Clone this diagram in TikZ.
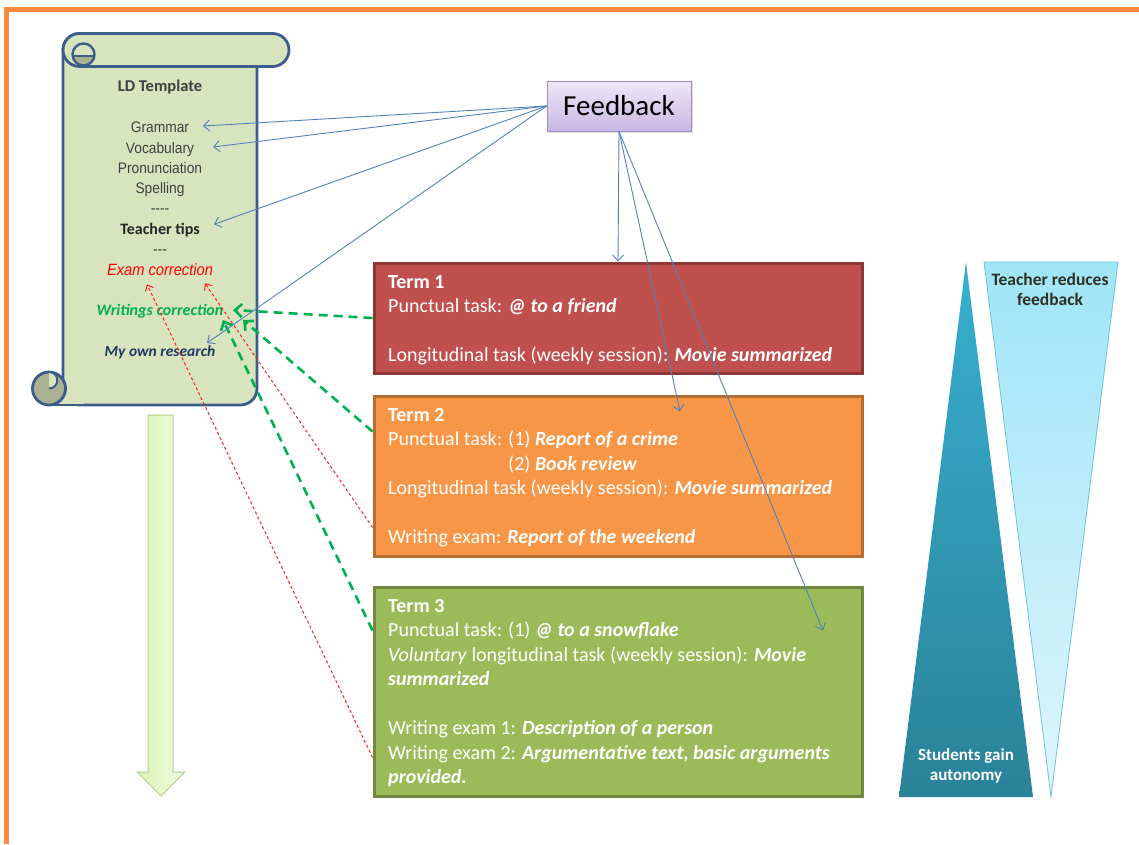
\documentclass[tikz,border=0pt]{standalone}
\usepackage{fontspec}
\setmainfont{Carlito}
\newfontfamily\narrowf[FakeStretch=0.9]{Liberation Sans}
\usetikzlibrary{arrows.meta,calc,shadows}

\definecolor{frameor}{HTML}{FF8A3D}
\definecolor{scrollfill}{HTML}{D7E4BD}
\definecolor{scrolledge}{HTML}{3C5D8C}
\definecolor{curlfill}{HTML}{A9B293}
\definecolor{fbblue}{HTML}{4F81BD}
\definecolor{grn}{HTML}{00B050}
\definecolor{redl}{HTML}{FF2020}
\definecolor{tone}{HTML}{C0504D}
\definecolor{toneb}{HTML}{8C3836}
\definecolor{ttwo}{HTML}{F79646}
\definecolor{ttwob}{HTML}{B66D31}
\definecolor{tthree}{HTML}{9BBB59}
\definecolor{tthreeb}{HTML}{71893F}
\definecolor{navy}{HTML}{1F3864}
\definecolor{greytxt}{HTML}{404040}
\definecolor{fbtop}{HTML}{EEE8F7}
\definecolor{fbbot}{HTML}{C9B7E3}
\definecolor{fbedge}{HTML}{9F8AC6}
\definecolor{tridarkT}{HTML}{38AFD0}
\definecolor{tridarkB}{HTML}{2A8298}
\definecolor{trilightT}{HTML}{9FE5F8}
\definecolor{trilightB}{HTML}{DFF5FC}
\definecolor{trilightE}{HTML}{6CC2DA}
\definecolor{barrowL}{HTML}{DCF3B6}
\definecolor{barrowR}{HTML}{EEFCDD}
\definecolor{barrowE}{HTML}{B3CF88}
\definecolor{teachtxt}{HTML}{2F2F22}

\newcommand\hlt[1]{{\bfseries\itshape #1}}

\begin{document}
\begin{tikzpicture}[x=1pt,y=-1pt,
  scroll/.style={fill=scrollfill, draw=scrolledge, line width=2.8pt, line join=round},
  stxt/.style={inner sep=1pt, anchor=base},
  termbox/.style={line width=3pt, minimum width=488pt, inner sep=0pt},
  termtxt/.style={anchor=north west, inner sep=0pt, align=left, text=white,
     font=\fontsize{20pt}{24.5pt}\selectfont},
  bluearr/.style={draw=fbblue, line width=0.9pt, -{Straight Barb[length=6pt,width=11pt]}},
  grnarr/.style={draw=grn, line width=2.6pt, dash pattern=on 9pt off 6pt,
     -{Straight Barb[length=7pt,width=13pt]}},
  redarr/.style={draw=redl, line width=1pt, dash pattern=on 3pt off 2.5pt,
     -{Straight Barb[length=5pt,width=9pt]}},
]
\useasboundingbox (0,0) rectangle (1139,844);

% orange frame
\draw[frameor, line width=5pt] (4,9.5) -- (1139,9.5);
\draw[frameor, line width=5pt] (6.5,7) -- (6.5,844);

% scroll
\filldraw[scroll, rounded corners=16.5pt] (63,33.5) rectangle (257,405);
\fill[scrollfill] (50,380) rectangle (84,403.6);
\draw[scrolledge, line width=2.8pt] (49,405) -- (84,405);
\filldraw[scroll, fill=curlfill] (49,388.5) circle (16.5);
\filldraw[scroll, line width=2pt] (49,372) .. controls (60,372) and (60,388.5) .. (49,388.5);
\filldraw[scroll, rounded corners=16.5pt] (63,33.5) rectangle (289,66.5);
\begin{scope}
  \clip (83.5,54.5) circle (11);
  \fill[curlfill] (70,56) rectangle (97,68);
\end{scope}
\draw[scrolledge, line width=2.4pt] (83.5,54.5) circle (11);
\draw[scrolledge, line width=2.2pt] (72.5,56) -- (94.5,56);

% block arrow
\shadedraw[left color=barrowL, right color=barrowR, draw=barrowE, line width=1pt]
  (148,415) -- (173,415) -- (173,772) -- (185,772) -- (161,796) -- (137,772) -- (148,772) -- cycle;

% scroll texts
\node[stxt, text=greytxt, font=\fontsize{16.5pt}{18pt}\selectfont\bfseries] (ld) at (160,91) {LD Template};
\node[stxt, text=greytxt, font=\narrowf\fontsize{15.3pt}{17pt}\selectfont] (gram) at (160,132.7) {Grammar};
\node[stxt, text=greytxt, font=\narrowf\fontsize{15.3pt}{17pt}\selectfont] (vocab) at (160,153) {Vocabulary};
\node[stxt, text=greytxt, font=\narrowf\fontsize{15.3pt}{17pt}\selectfont] (pron) at (160,173.3) {Pronunciation};
\node[stxt, text=greytxt, font=\narrowf\fontsize{15.3pt}{17pt}\selectfont] (spell) at (160,193.3) {Spelling};
\node[stxt, text=greytxt, font=\narrowf\fontsize{15.3pt}{17pt}\selectfont] (dasha) at (160,213.5) {-\kern0pt-\kern0pt-\kern0pt-};
\node[stxt, text=black!85, font=\fontsize{16pt}{18pt}\selectfont\bfseries] (tips) at (160,234.3) {Teacher tips};
\node[stxt, text=greytxt, font=\narrowf\fontsize{15.3pt}{17pt}\selectfont] (dashb) at (160,254) {-\kern0pt-\kern0pt-};
\node[stxt, text=red, font=\narrowf\fontsize{16.3pt}{18pt}\selectfont\itshape] (exam) at (160,275.3) {Exam correction};
\node[stxt, text=grn, font=\fontsize{16pt}{18pt}\selectfont\bfseries\itshape] (writ) at (160,315) {Writings correction};
\node[stxt, text=navy, font=\fontsize{15.5pt}{18pt}\selectfont\bfseries\itshape] (research) at (160,356) {My own research};

% term boxes
\node[termbox, fill=tone, draw=toneb, minimum height=110pt] (t1) at (618,318) {};
\node[termbox, fill=ttwo, draw=ttwob, minimum height=160pt] (t2) at (618,476) {};
\node[termbox, fill=tthree, draw=tthreeb, minimum height=209pt] (t3) at (618,691.5) {};

\node[termtxt] (t1txt) at (388,275) {\textbf{Term 1}\\
Punctual task: \hlt{@ to a friend}\\[24.5pt]
Longitudinal task (weekly session): \hlt{Movie summarized}};

\node[termtxt] (t2txt) at (388,408) {\textbf{Term 2}\\
Punctual task: (1) \hlt{Report of a crime}\\
\phantom{Punctual task: }(2) \hlt{Book review}\\
Longitudinal task (weekly session): \hlt{Movie summarized}\\[24.5pt]
Writing exam: \hlt{Report of the weekend}};

\node[termtxt] (t3txt) at (388,599) {\textbf{Term 3}\\
Punctual task: (1) \hlt{@ to a snowflake}\\
\textit{Voluntary} longitudinal task (weekly session): \hlt{Movie}\\
\hlt{summarized}\\[24.5pt]
Writing exam 1: \hlt{Description of a person}\\
Writing exam 2: \hlt{Argumentative text, basic arguments}\\
\hlt{provided.}};

% triangles
\shade[top color=tridarkT, bottom color=tridarkB] (966,262) -- (1033,797) -- (899,797) -- cycle;
\shadedraw[top color=trilightT, bottom color=trilightB, draw=trilightE, line width=0.8pt]
  (984,262) -- (1118,262) -- (1051,797) -- cycle;
\node[text=teachtxt, align=center, inner sep=0pt, font=\fontsize{17.5pt}{20pt}\selectfont\bfseries] (teach) at (1050,289) {Teacher reduces\\feedback};
\node[text=white, align=center, inner sep=0pt, font=\fontsize{17pt}{20pt}\selectfont\bfseries] (stud) at (966,766) {Students gain\\autonomy};

% feedback node
\node[top color=fbtop, bottom color=fbbot, draw=fbedge, line width=0.8pt,
  minimum width=144pt, minimum height=50pt, inner sep=0pt,
  drop shadow={opacity=0.25, shadow xshift=1.5pt, shadow yshift=-1.5pt},
  font=\fontsize{29pt}{32pt}\selectfont] (fb) at (619,106) {Feedback};

% green dashed connectors
\draw[grnarr] (t1.west) -- ($(writ.base)+(73,-5)$);
\draw[grnarr] ($(t2.north west)+(0,37)$) -- ($(writ.base)+(83,5)$);
\draw[grnarr] ($(t3.north west)+(0,45)$) -- ($(writ.base)+(63,5)$);

% red dotted connectors
\draw[redarr] ($(t2.north west)+(0,133)$) -- ($(exam.base)+(45,8)$);
\draw[redarr] ($(t3.north west)+(0,172)$) -- ($(exam.base)+(-13,9)$);

% blue feedback connectors
\draw[bluearr] (fb.west) -- ($(gram.base)+(43,-6.7)$);
\draw[bluearr] (fb.west) -- ($(vocab.base)+(53,-6)$);
\draw[bluearr] (fb.west) -- ($(tips.base)+(54,-10)$);
\draw[bluearr] (fb.west) -- ($(research.base)+(47,-13)$);
\draw[bluearr] (fb.south) -- (t1.north);
\draw[bluearr] (fb.south) -- ($(t2.north)+(62,17)$);
\draw[bluearr] (fb.south) -- ($(t3.north)+(205,45)$);
\end{tikzpicture}
\end{document}
